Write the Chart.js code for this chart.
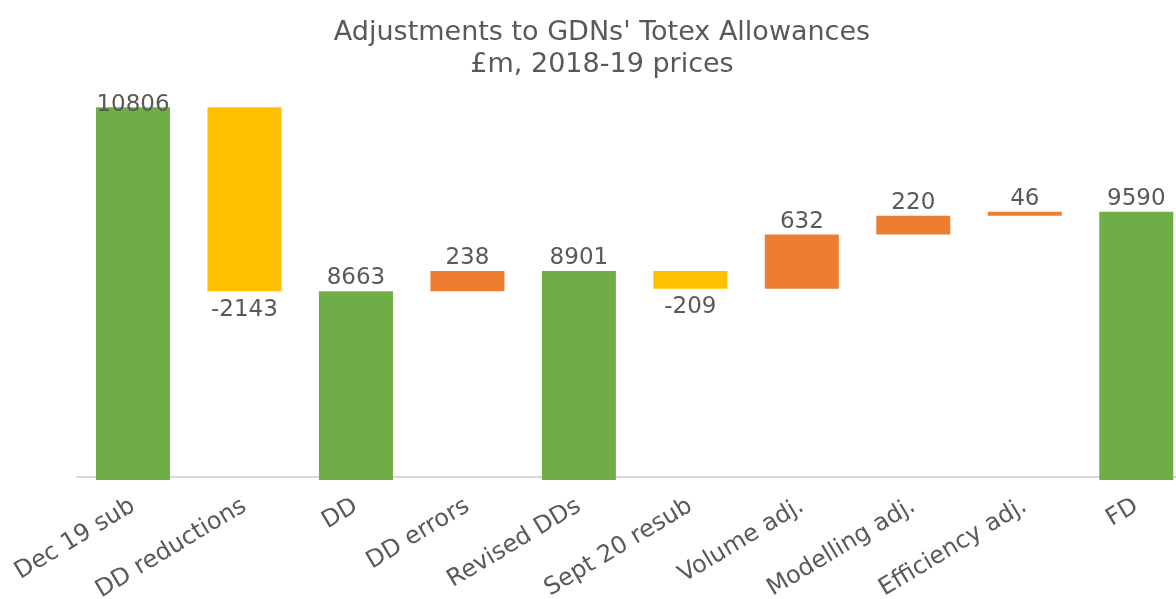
<!DOCTYPE html>
<html>
<head>
<meta charset="utf-8">
<script src="https://cdn.jsdelivr.net/npm/chart.js@4"></script>
<style>
  html, body { margin: 0; padding: 0; background: #ffffff; overflow: hidden; }
  #wrap { width: 1204px; height: 599px; }
</style>
</head>
<body>
<div id="wrap"><canvas id="c" width="1204" height="599"></canvas></div>
<script>
// ---- Data ----
const categories = ['Dec 19 sub', 'DD reductions', 'DD', 'DD errors', 'Revised DDs',
                    'Sept 20 resub', 'Volume adj.', 'Modelling adj.', 'Efficiency adj.', 'FD'];
const values = [10806, -2143, 8663, 238, 8901, -209, 632, 220, 46, 9590];
const isTotal = [true, false, true, false, true, false, false, false, false, true];
const titleLines = ["Adjustments to GDNs' Totex Allowances", "£m, 2018-19 prices"];
const yMin = 6500;
const yMax = 11000;

// ---- Build floating bars from the data ----
const COLOR_TOTAL = '#70AD47';
const COLOR_UP = '#ED7D31';
const COLOR_DOWN = '#FFC000';
const TEXT = '#595959';
const FONT = '"DejaVu Sans", Verdana, sans-serif';

let running = 0;
const ranges = [];
const colors = [];
values.forEach((v, i) => {
  if (isTotal[i]) {
    ranges.push([0, v]);
    running = v;
    colors.push(COLOR_TOTAL);
  } else {
    ranges.push([running, running + v]);
    running += v;
    colors.push(v >= 0 ? COLOR_UP : COLOR_DOWN);
  }
});

const valueLabels = {
  id: 'valueLabels',
  afterDatasetsDraw(chart) {
    const ctx = chart.ctx;
    const meta = chart.getDatasetMeta(0);
    ctx.save();
    ctx.font = '23px ' + FONT;
    ctx.fillStyle = TEXT;
    ctx.textAlign = 'center';
    ctx.textBaseline = 'alphabetic';
    meta.data.forEach((bar, i) => {
      const v = values[i];
      const top = Math.min(bar.y, bar.base);
      const bottom = Math.max(bar.y, bar.base);
      let y;
      if (!isTotal[i] && v < 0) {
        y = bottom + 24.5;
      } else {
        y = Math.max(top - 7, chart.chartArea.top + 20.5);
      }
      ctx.fillText(String(v), bar.x, y);
    });
    ctx.restore();
  }
};

new Chart(document.getElementById('c'), {
  type: 'bar',
  data: {
    labels: categories,
    datasets: [{
      data: ranges,
      backgroundColor: colors,
      borderWidth: 0,
      categoryPercentage: 1.0,
      barPercentage: 0.664,
      clip: { left: 0, top: 0, right: 0, bottom: 3 }
    }]
  },
  options: {
    responsive: false,
    animation: false,
    layout: { padding: 0 },
    plugins: {
      legend: { display: false },
      tooltip: { enabled: false },
      title: {
        display: true,
        text: titleLines,
        color: TEXT,
        font: { family: FONT, size: 27, weight: 'normal', lineHeight: 32 / 27 },
        padding: { top: 17, bottom: 9.7 }
      }
    },
    scales: {
      x: {
        grid: { display: false, drawTicks: false },
        border: { display: true, color: '#D9D9D9', width: 2 },
        ticks: {
          autoSkip: false,
          minRotation: 31,
          maxRotation: 31,
          padding: 15,
          color: TEXT,
          font: { family: FONT, size: 24 }
        },
        afterFit(scale) {
          scale.height = 122;
          scale.paddingLeft = 0;
          scale.paddingRight = 0;
        }
      },
      y: {
        display: true,
        min: yMin,
        max: yMax,
        grid: { display: false, drawTicks: false },
        border: { display: false },
        ticks: { display: false },
        afterFit(scale) { scale.width = 77.25; }
      },
      yRight: {
        display: true,
        position: 'right',
        grid: { display: false, drawTicks: false },
        border: { display: false },
        ticks: { display: false },
        afterFit(scale) { scale.width = 12; }
      }
    }
  },
  plugins: [valueLabels]
});
</script>
</body>
</html>
